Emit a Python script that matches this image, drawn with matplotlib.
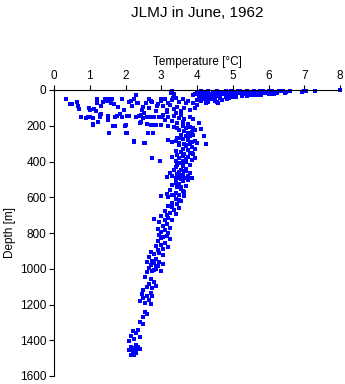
import matplotlib
matplotlib.use("Agg")
import matplotlib.pyplot as plt

plt.rcParams['font.family'] = ['Liberation Sans', 'DejaVu Sans']

title = "JLMJ in June, 1962"
xlabel = "Temperature [°C]"
ylabel = "Depth [m]"
xticks = [0, 1, 2, 3, 4, 5, 6, 7, 8]
yticks = [0, 200, 400, 600, 800, 1000, 1200, 1400, 1600]

# Surface warm layer (temperature, depth)
surf_T = [3.30, 3.28, 3.35, 3.32, 3.9, 3.95, 4.0, 4.05, 4.1, 4.1, 4.15, 4.2, 4.25, 4.3, 4.3, 4.35, 4.4,
          4.45, 4.5, 4.5, 4.55, 4.6, 4.6, 4.65, 4.7, 4.75, 4.8, 4.8, 4.85, 4.9, 4.95, 5.0, 5.0, 5.05,
          5.1, 5.15, 5.2, 5.25, 5.3, 5.3, 5.35, 5.4, 5.45, 5.5, 5.55, 5.6, 5.65, 5.7, 5.75, 5.8, 5.85,
          5.9, 6.0, 6.0, 6.05, 6.1, 6.15, 6.2, 6.3, 6.4, 6.5, 6.6, 6.95, 7.0, 7.05, 7.3, 8.0,
          4.0, 4.1, 4.3, 4.5, 4.6, 4.25, 4.2, 4.4, 4.7, 4.9, 5.1, 5.4, 5.7, 6.1, 4.55, 4.85,
          4.45, 4.75, 5.05, 5.25, 5.55, 5.85, 6.25, 6.45, 4.15, 4.35, 4.65, 4.95, 5.2, 5.5, 5.8]
surf_D = [5, 15, 25, 45, 30, 20, 10, 35, 5, 25, 40, 15, 30, 8, 45, 20, 35,
          10, 25, 40, 5, 18, 32, 45, 10, 25, 5, 38, 18, 30, 8, 22, 40, 12,
          28, 5, 18, 35, 10, 25, 15, 5, 28, 12, 20, 5, 30, 15, 8, 22, 5,
          15, 8, 25, 18, 5, 20, 12, 8, 5, 10, 3, 12, 3, 8, 3, 2,
          55, 60, 65, 60, 70, 75, 50, 50, 55, 45, 40, 35, 30, 20, 65, 50,
          15, 15, 30, 20, 30, 15, 15, 15, 20, 28, 28, 15, 8, 22, 28]

# Mixed / cold intermediate layer
mix_T = [0.34, 0.45, 0.51, 0.65, 0.67, 0.70, 0.75, 0.89, 0.98, 1.0, 1.12, 1.17, 1.21, 1.19, 1.31, 1.32,
         1.38, 1.42, 1.49, 1.54, 1.59, 1.63, 1.68, 1.51, 1.10, 1.66, 1.54, 1.77, 1.86, 1.91, 1.96,
         2.0, 2.05, 2.19, 2.24, 2.28, 2.31, 2.38, 2.44, 2.52, 2.56, 2.61, 2.66, 2.70, 2.75, 2.80,
         2.84, 2.89, 2.94, 2.98, 2.98, 3.03, 2.24, 2.52, 2.03, 1.0, 1.28, 1.24, 1.1, 1.55, 1.71,
         2.01, 1.98, 2.25, 2.55, 2.73, 2.96, 2.64, 2.78, 2.4, 2.44,
         3.0, 3.1, 3.2, 3.3, 3.4, 3.5, 3.6, 3.7, 3.05, 3.25, 3.45, 3.65, 3.15, 3.35, 3.55, 3.75,
         3.9, 4.0, 4.1, 3.95, 4.05, 3.05, 3.2, 3.35, 3.5, 3.65, 3.8, 3.9, 3.1, 3.3, 3.45, 3.6,
         3.75, 4.05, 4.1, 3.0, 3.2, 2.8, 2.6, 2.7, 2.5, 2.3, 2.1, 1.9, 1.7, 1.5, 1.3, 1.1, 0.95,
         2.15, 2.35, 2.5, 2.7, 2.9, 1.8, 2.1, 2.45, 2.65, 2.85, 3.15, 3.4, 3.55, 3.8]
mix_D = [52, 80, 80, 67, 90, 108, 149, 155, 99, 112, 108, 117, 48, 71, 90, 136,
         67, 52, 61, 52, 71, 48, 80, 170, 192, 201, 239, 145, 136, 52, 112,
         198, 145, 90, 52, 30, 71, 145, 179, 127, 75, 149, 52, 198, 67, 149,
         198, 90, 149, 52, 198, 149, 285, 298, 243, 149, 140, 177, 196, 239, 202,
         242, 202, 289, 298, 382, 395, 242, 242, 183, 140,
         60, 50, 70, 55, 45, 65, 50, 75, 90, 85, 95, 100, 110, 105, 115, 60,
         70, 85, 55, 100, 45, 140, 150, 145, 155, 160, 150, 165, 170, 175, 185, 180,
         190, 185, 220, 195, 200, 195, 190, 150, 155, 150, 148, 152, 150, 145, 150, 155, 150,
         60, 75, 95, 60, 80, 95, 65, 110, 100, 120, 125, 130, 140, 110]

# Deep column
deep_T = [3.35, 3.45, 3.6, 3.7, 3.8, 3.9, 3.5, 3.65, 3.75, 3.85, 3.95, 3.55, 3.7, 3.8, 3.9, 4.2,
          3.45, 3.6, 3.75, 3.85, 3.95, 3.3, 3.5, 3.65, 3.8, 4.0, 4.25, 3.2, 3.4,
          3.5, 3.7, 3.85, 3.6, 3.75, 3.95, 3.4, 3.55, 3.8, 3.65, 3.9, 3.45, 3.6, 3.75, 3.5, 3.7,
          3.85, 3.4, 3.6, 3.95, 3.3,
          3.7, 3.5, 3.8, 3.6, 3.4, 3.7, 3.55, 3.35, 3.5, 3.65, 3.8, 3.45, 3.6, 3.3, 3.75, 3.5,
          3.65, 3.4, 3.85, 3.55, 3.25, 3.15,
          3.6, 3.4, 3.5, 3.3, 3.7, 3.45, 3.55, 3.25, 3.6, 3.4, 3.15, 3.5, 3.3, 3.65, 3.0, 3.2,
          3.4, 3.55, 3.3, 3.45, 3.2, 3.5, 3.35, 3.1, 3.25, 3.4,
          3.0, 3.2, 2.8, 3.1, 3.3, 2.95, 3.15, 3.05, 3.25, 2.9, 3.1, 3.0, 3.2,
          2.95, 3.15, 3.05, 3.25, 2.9, 3.1, 3.0, 2.85, 3.2, 3.05, 2.9,
          2.7, 2.95, 2.8, 3.05, 2.65, 2.85, 2.75, 2.95, 2.6, 2.8, 2.7, 2.9, 2.65, 2.85, 2.75, 3.0, 2.6,
          2.55, 2.7, 2.8, 2.65, 2.85, 2.6, 2.75, 2.5, 2.7, 2.45, 2.6, 2.75, 2.5, 2.65, 2.4, 2.55, 2.7,
          2.55, 2.6, 2.5, 2.4, 2.5, 2.35, 2.2, 2.3, 2.15, 2.4, 2.25, 2.1, 2.3, 2.15, 2.25, 2.4, 2.1,
          2.2, 2.3, 2.15, 2.25,
          3.55, 3.7, 3.85, 3.6, 3.45, 3.7, 3.5, 3.6, 3.75, 3.4, 3.55, 3.65, 3.35, 3.5, 3.3, 3.15,
          3.0, 3.05, 2.85, 2.8, 2.2, 2.35, 2.3]
deep_D = [205, 210, 200, 215, 205, 210, 225, 230, 240, 235, 225, 250, 255, 260, 250, 260,
          270, 275, 280, 290, 285, 290, 295, 300, 300, 295, 300, 280, 285,
          310, 315, 320, 330, 335, 330, 340, 345, 350, 360, 360, 365, 370, 375, 380, 385,
          390, 395, 395, 380, 375,
          405, 410, 420, 425, 430, 440, 445, 450, 460, 455, 465, 470, 475, 480, 480, 490,
          495, 495, 490, 500, 465, 485,
          510, 515, 525, 530, 535, 545, 555, 560, 565, 575, 580, 585, 590, 595, 595, 600,
          610, 620, 630, 640, 650, 660, 670, 675, 690, 695,
          705, 715, 720, 725, 730, 740, 750, 760, 770, 775, 785, 795, 800,
          810, 815, 825, 835, 845, 855, 865, 870, 880, 890, 895,
          905, 910, 920, 925, 935, 945, 955, 960, 965, 970, 980, 985, 995, 1000, 1010, 1015, 1020,
          1045, 1060, 1075, 1085, 1095, 1100, 1110, 1120, 1135, 1140, 1150, 1155, 1165, 1175, 1180, 1190, 1195,
          1240, 1255, 1270, 1300, 1310, 1340, 1350, 1360, 1375, 1380, 1395, 1405, 1425, 1435, 1445, 1450, 1455,
          1465, 1470, 1480, 1485,
          270, 310, 350, 400, 420, 455, 470, 485, 505, 520, 540, 570, 590, 615, 655, 700,
          830, 975, 990, 1005, 1450, 1440, 1460]

fig = plt.figure(figsize=(3.45, 3.84), dpi=100)
ax = fig.add_axes([54/345, 1 - 376/384, (340 - 54)/345, (376 - 90)/384])

for T, D in [(surf_T, surf_D), (mix_T, mix_D), (deep_T, deep_D)]:
    ax.plot(T, D, linestyle='none', marker='s', markersize=2.2,
            markeredgewidth=0, color='#0000ff', clip_on=False, antialiased=False)

ax.set_xlim(0, 8)
ax.set_ylim(1600, 0)
ax.xaxis.tick_top()
ax.xaxis.set_label_position('top')
ax.set_xticks(xticks)
ax.set_yticks(yticks)
ax.spines['right'].set_visible(False)
ax.spines['bottom'].set_visible(False)
ax.spines['top'].set_linewidth(0.8)
ax.spines['left'].set_linewidth(0.8)
ax.tick_params(axis='both', direction='out', length=3.5, width=0.8, labelsize=8.5, pad=2)
ax.set_xlabel(xlabel, fontsize=8.5, labelpad=4)
ax.set_ylabel(ylabel, fontsize=8.5, labelpad=3)
fig.text(197/345, 1 - 13/384, title, ha='center', va='center', fontsize=11)

fig.savefig("out.png", dpi=100)
